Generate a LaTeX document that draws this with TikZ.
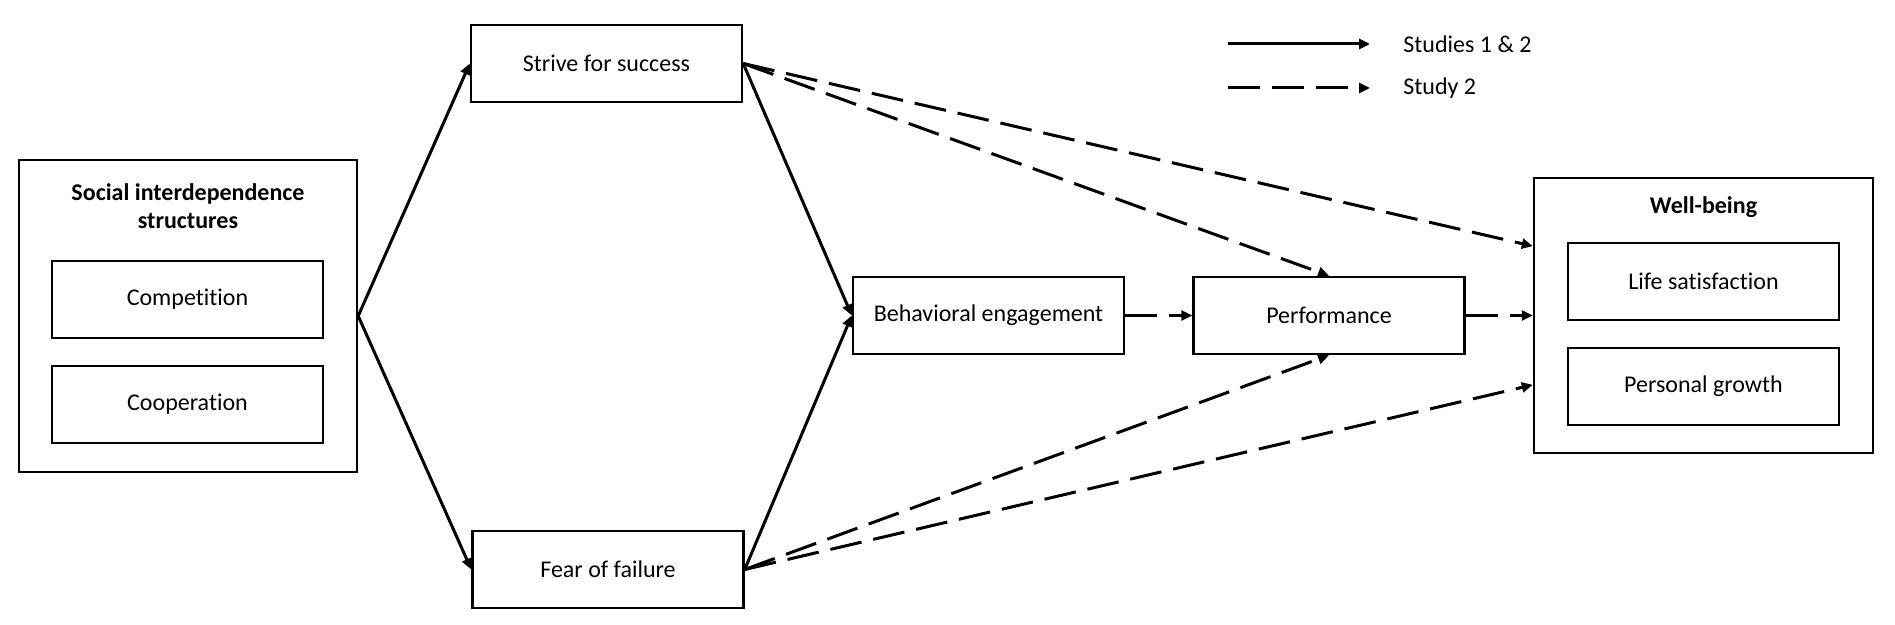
\documentclass[tikz,border=0pt]{standalone}
\usepackage{fontspec}
\setmainfont{Carlito}[Ligatures=NoCommon]
\usetikzlibrary{calc,arrows.meta}

\begin{document}
\begin{tikzpicture}[x=0.5pt,y=-0.5pt,>={Triangle[length=5.5pt,width=5pt]},
  font=\fontsize{12}{14}\selectfont,
  box/.style={draw,line width=1.2pt,minimum width=135.5pt,minimum height=38.5pt,inner sep=0pt},
  group/.style={draw,line width=1.2pt,inner sep=0pt},
  title/.style={font=\bfseries\fontsize{12}{14}\selectfont,align=center},
  link/.style={->,line width=1.5pt},
  dlink/.style={->,line width=1.5pt,dash pattern=on 16pt off 6pt}]
  \useasboundingbox (0,0) rectangle (1895,625);
  % predictor group
  \node[group,minimum width=169pt,minimum height=156pt] (sis) at (188,316) {};
  \node[title] (sistitle) at (188,206) {Social interdependence\\structures};
  \node[box] (comp) at (187.5,299.5) {Competition};
  \node[box] (coop) at (187.5,404.5) {Cooperation};
  % mediators
  \node[box] (strive) at (606.5,63.5) {Strive for success};
  \node[box] (fear) at (608,569.5) {Fear of failure};
  \node[box] (behav) at (988.5,315.5) {Behavioral engagement};
  \node[box] (perf) at (1329,315.5) {Performance};
  % outcome group
  \node[group,minimum width=169.5pt,minimum height=137.5pt] (wb) at (1703.5,315.5) {};
  \node[title] (wbtitle) at (1703.5,207) {Well-being};
  \node[box] (life) at (1703.5,281.5) {Life satisfaction};
  \node[box] (growth) at (1703.5,386.5) {Personal growth};
  % paths, studies 1 & 2
  \draw[link] (sis.east) -- (strive.west);
  \draw[link] (sis.east) -- (fear.west);
  \draw[link] (strive.east) -- (behav.west);
  \draw[link] (fear.east) -- (behav.west);
  % paths, study 2
  \draw[dlink] (strive.east) -- ($(wb.west)!0.5!(wb.north west)$);
  \draw[dlink] (strive.east) -- (perf.north);
  \draw[dlink] (fear.east) -- (perf.south);
  \draw[dlink] (fear.east) -- ($(wb.west)!0.5!(wb.south west)$);
  \draw[dlink] (behav.east) -- (perf.west);
  \draw[dlink] (perf.east) -- (wb.west);
  % legend
  \coordinate (solidstart) at (1228,44);
  \coordinate (solidend) at (1370,44);
  \coordinate (dashstart) at (1228,88);
  \coordinate (dashend) at (1370,88);
  \draw[link] (solidstart) -- (solidend);
  \draw[dlink] (dashstart) -- (dashend);
  \node[anchor=west,inner sep=0pt] (legsolid) at (1403,44) {Studies 1 \& 2};
  \node[anchor=west,inner sep=0pt] (legdash) at (1403,88) {Study 2};
\end{tikzpicture}
\end{document}
